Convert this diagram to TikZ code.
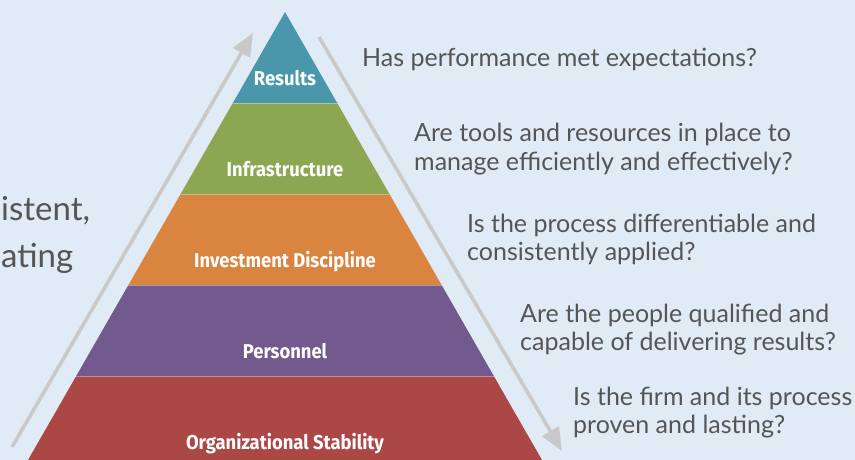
\documentclass[tikz,border=0pt]{standalone}
\usepackage{fontspec}
\setmainfont{Lato}
\newfontfamily\lblfont{Fira Sans}[FakeStretch=0.92]
\usetikzlibrary{arrows.meta}
\definecolor{bgc}{HTML}{E1EBF6}
\definecolor{cres}{HTML}{4A97AC}
\definecolor{cinf}{HTML}{8BA752}
\definecolor{cinv}{HTML}{D98540}
\definecolor{cper}{HTML}{725A8F}
\definecolor{corg}{HTML}{AB4846}
\definecolor{arrgray}{HTML}{C9C9C9}
\definecolor{txt}{HTML}{555555}
\tikzset{
  band/.style={draw=white, draw opacity=0.35, line width=0.6pt},
  lbl/.style={text=white, font=\lblfont\bfseries\fontsize{20}{22}\selectfont, inner sep=0pt, anchor=base},
  qtext/.style={text=txt, font=\fontsize{25}{29}\selectfont, inner sep=0pt, anchor=base west},
  sidetext/.style={text=txt, font=\fontsize{33}{38}\selectfont, inner sep=0pt, anchor=base west},
  bigarrow/.style={arrgray, line width=3.6pt, -{Triangle[length=23pt,width=19pt]}}
}
\begin{document}
\begin{tikzpicture}[x=1pt,y=-1pt]
\useasboundingbox (0,0) rectangle (855,460);
\clip (0,0) rectangle (855,460);
\fill[bgc] (0,0) rectangle (855,460);

% side text (cut off at the left edge in the original)
\node[sidetext] (s1) at (1,220) {istent,};
\node[sidetext] (s2) at (1,267) {ating};

% arrows
\coordinate (la) at (12,447);
\coordinate (lb) at (253,33);
\coordinate (ra) at (319,37);
\coordinate (rb) at (562,451);
\draw[bigarrow] (la) -- (lb);
\draw[bigarrow] (ra) -- (rb);

% pyramid bands
\fill[corg] (24,467) -- (76.2,376) -- (493.8,376) -- (546,467) -- cycle;
\fill[cper] (76.2,376) -- (128.4,285) -- (441.6,285) -- (493.8,376) -- cycle;
\fill[cinv] (128.4,285) -- (180.6,194) -- (389.4,194) -- (441.6,285) -- cycle;
\fill[cinf] (180.6,194) -- (232.8,103) -- (337.2,103) -- (389.4,194) -- cycle;
\fill[cres] (232.8,103) -- (285,12) -- (337.2,103) -- cycle;
\draw[band] (76.2,376) -- (493.8,376);
\draw[band] (128.4,285) -- (441.6,285);
\draw[band] (180.6,194) -- (389.4,194);
\draw[band] (232.8,103) -- (337.2,103);

% labels
\node[lbl] (l1) at (285,85) {Results};
\node[lbl] (l2) at (285,176.5) {Infrastructure};
\node[lbl] (l3) at (285,267.5) {Investment Discipline};
\node[lbl] (l4) at (285,358.5) {Personnel};
\node[lbl] (l5) at (285,449) {Organizational Stability};

% questions
\node[qtext] (q1) at (362,67) {Has performance met expectations?};
\node[qtext] (q2a) at (414,142) {Are tools and resources in place to};
\node[qtext] (q2b) at (414,170) {manage efficiently and effectively?};
\node[qtext] (q3a) at (467,232) {Is the process differentiable and};
\node[qtext] (q3b) at (467,260.5) {consistently applied?};
\node[qtext] (q4a) at (520,322) {Are the people qualified and};
\node[qtext] (q4b) at (520,350.5) {capable of delivering results?};
\node[qtext] (q5a) at (573,405) {Is the firm and its process};
\node[qtext] (q5b) at (573,433.5) {proven and lasting?};
\end{tikzpicture}
\end{document}
